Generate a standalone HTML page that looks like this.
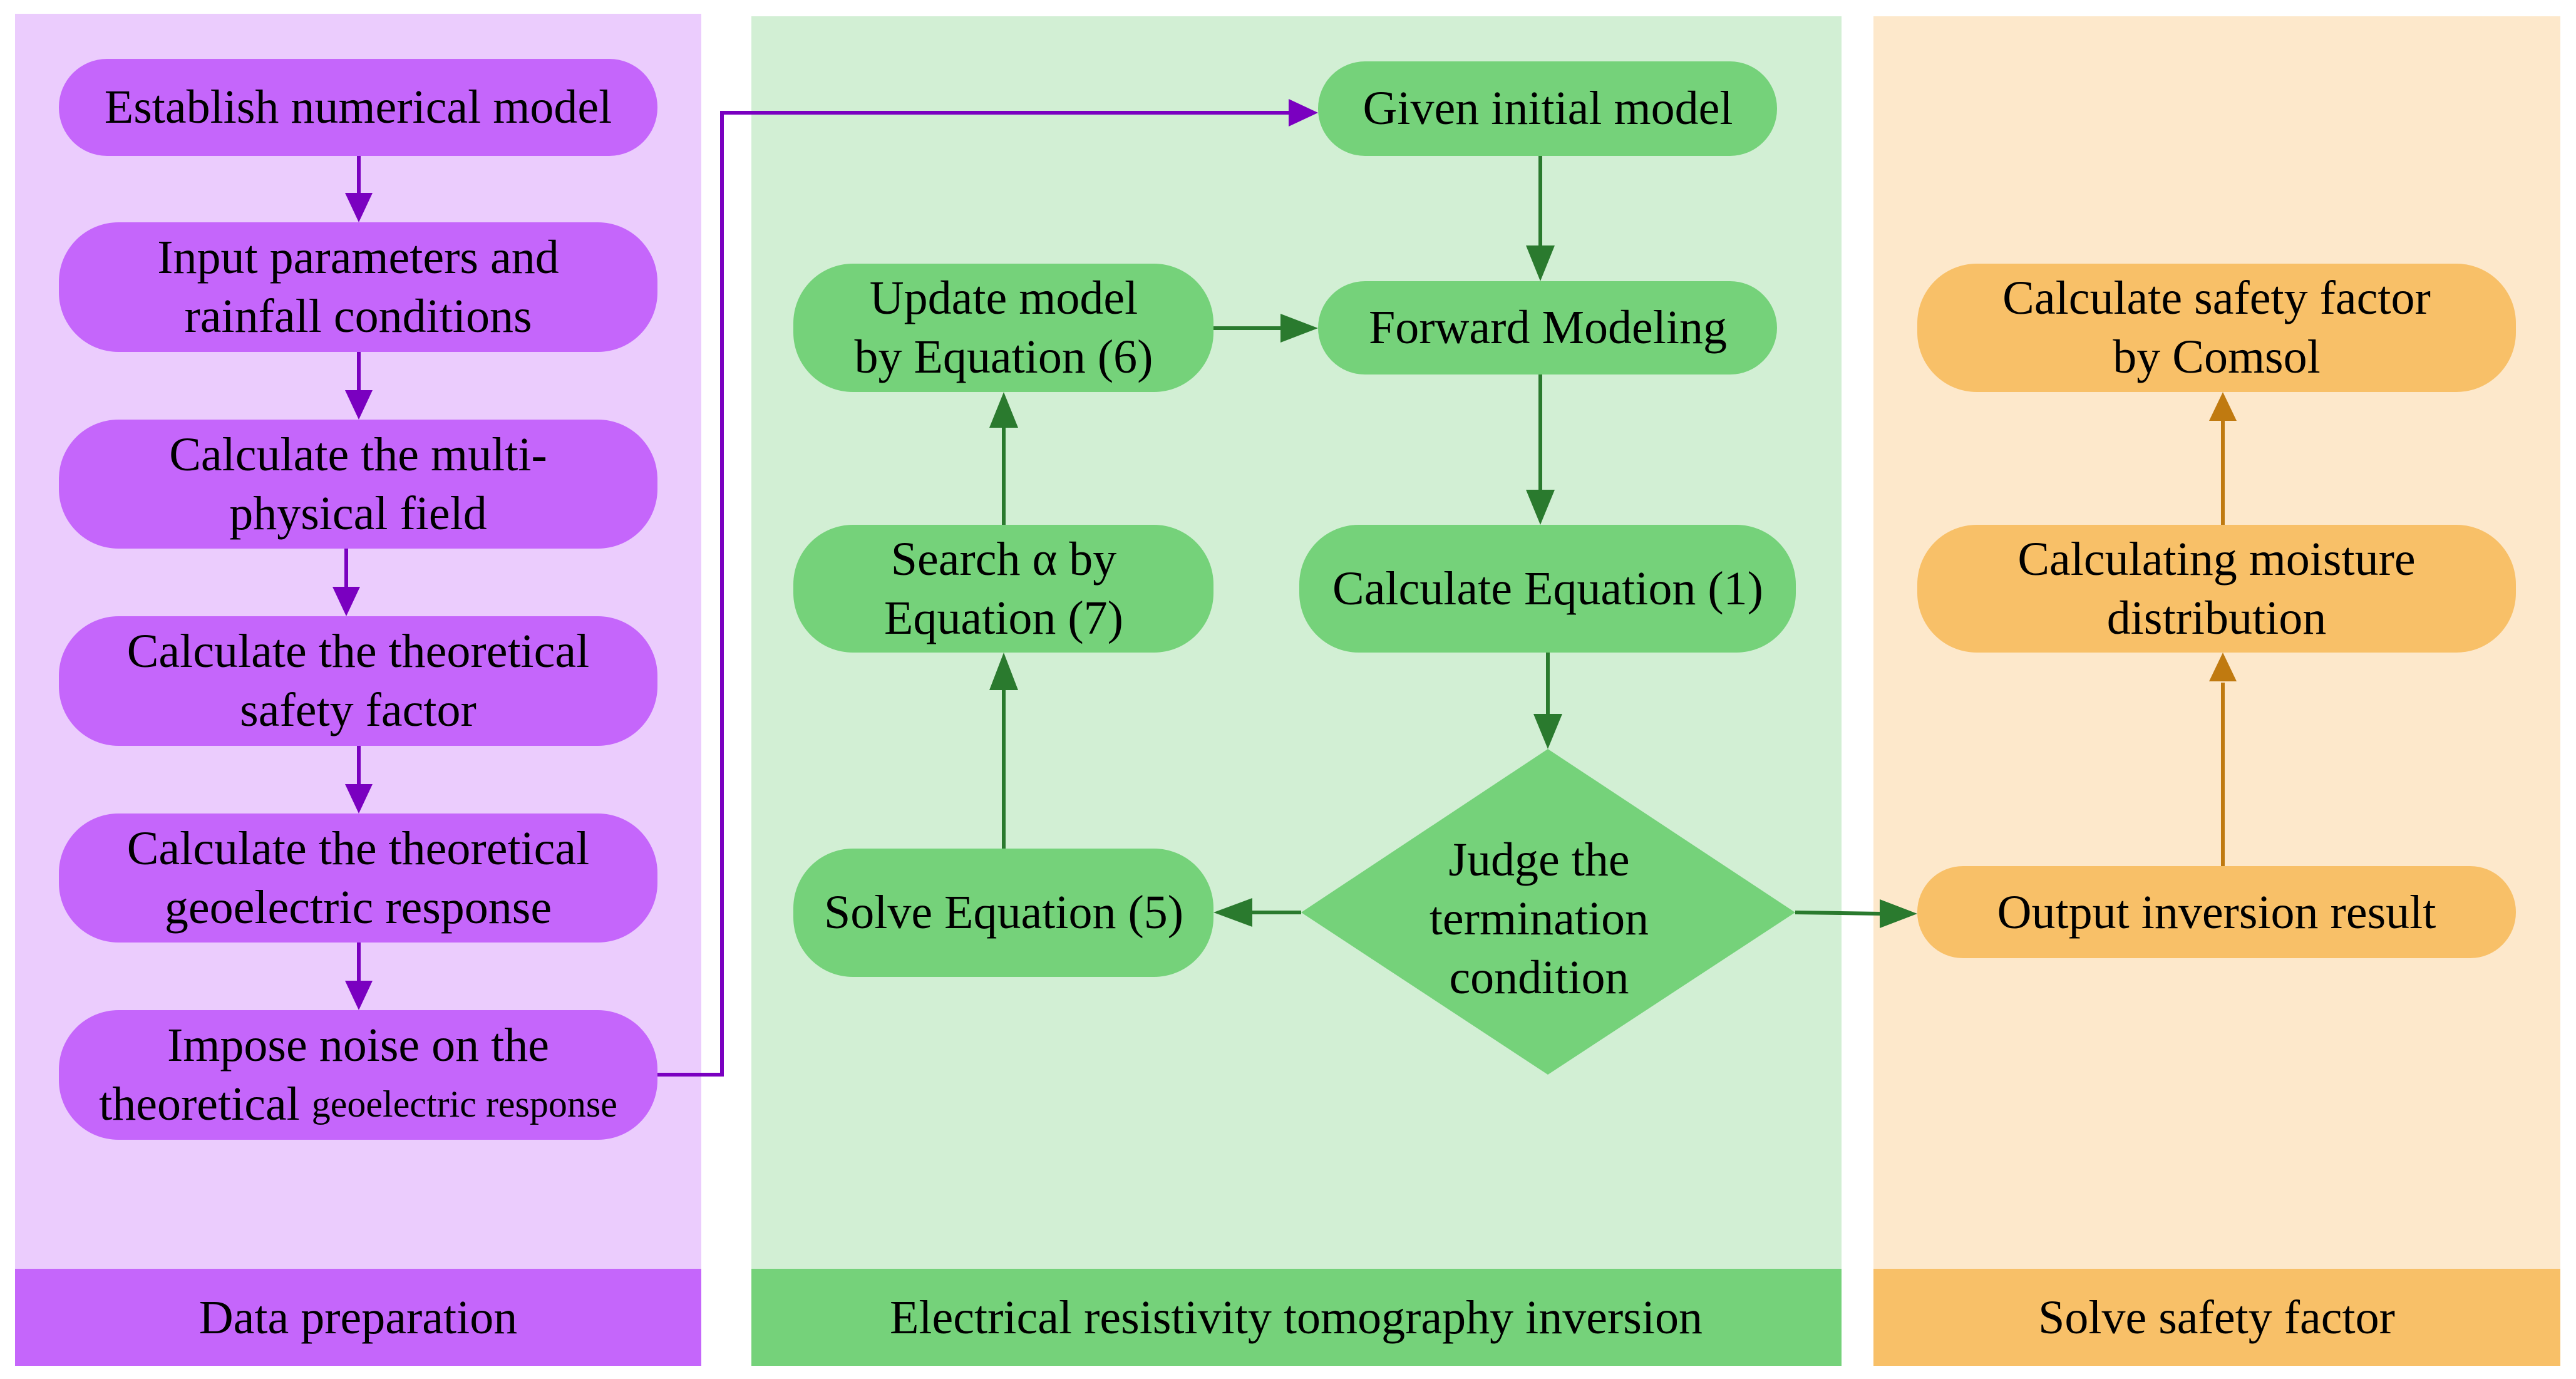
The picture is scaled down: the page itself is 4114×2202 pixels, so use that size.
<!DOCTYPE html>
<html><head><meta charset="utf-8"><style>
html,body{margin:0;padding:0;background:#fff;}
svg{display:block;}
svg text{font-family:"Liberation Serif","Times New Roman","DejaVu Serif",serif;font-size:76px;fill:#000;text-anchor:middle;dominant-baseline:central;}
</style></head><body>
<svg width="4114" height="2202" viewBox="0 0 4114 2202" xmlns="http://www.w3.org/2000/svg" font-family="Liberation Serif, serif">
<!-- panels -->
<rect x="24" y="22" width="1096" height="2004" fill="#ebccfd"/>
<rect x="24" y="2026" width="1096" height="155" fill="#c566fb"/>
<rect x="1200" y="26" width="1741" height="2000" fill="#d2efd4"/>
<rect x="1200" y="2026" width="1741" height="155" fill="#75d27a"/>
<rect x="2992" y="26" width="1097" height="2000" fill="#fde8cb"/>
<rect x="2992" y="2026" width="1097" height="155" fill="#f8c068"/>
<g font-family="Liberation Serif, serif">
<text x="572" y="2104">Data preparation</text>
<text x="2070" y="2104">Electrical resistivity tomography inversion</text>
<text x="3540" y="2104">Solve safety factor</text>
</g>

<!-- purple nodes -->
<g fill="#c566fb">
<rect x="94" y="94" width="956" height="155" rx="77"/>
<rect x="94" y="355" width="956" height="207" rx="95"/>
<rect x="94" y="670" width="956" height="206" rx="95"/>
<rect x="94" y="984" width="956" height="207" rx="95"/>
<rect x="94" y="1299" width="956" height="206" rx="95"/>
<rect x="94" y="1613" width="956" height="207" rx="95"/>
</g>
<g font-family="Liberation Serif, serif">
<text x="572" y="171">Establish numerical model</text>
<text x="572" y="411">Input parameters and</text><text x="572" y="505">rainfall conditions</text>
<text x="572" y="726">Calculate the multi-</text><text x="572" y="820">physical field</text>
<text x="572" y="1040">Calculate the theoretical</text><text x="572" y="1134">safety factor</text>
<text x="572" y="1355">Calculate the theoretical</text><text x="572" y="1449">geoelectric response</text>
<text x="572" y="1669">Impose noise on the</text>
<text x="572" y="1763"><tspan>theoretical </tspan><tspan style="font-size:60px">geoelectric response</tspan></text>
</g>

<!-- purple arrows -->
<g stroke="#7a00c0" stroke-width="6" fill="none">
<line x1="573" y1="249" x2="573" y2="310"/>
<line x1="573" y1="562" x2="573" y2="625"/>
<line x1="553" y1="876" x2="553" y2="940"/>
<line x1="573" y1="1191" x2="573" y2="1255"/>
<line x1="573" y1="1505" x2="573" y2="1568"/>
<polyline points="1050,1716 1153,1716 1153,180 2060,180"/>
</g>
<g fill="#7a00c0">
<polygon points="551,308 595,308 573,355"/>
<polygon points="551,623 595,623 573,670"/>
<polygon points="531,937 575,937 553,984"/>
<polygon points="551,1252 595,1252 573,1299"/>
<polygon points="551,1566 595,1566 573,1613"/>
<polygon points="2058,158 2058,202 2105,180"/>
</g>

<!-- green nodes -->
<g fill="#75d27a">
<rect x="2105" y="98" width="733" height="151" rx="75"/>
<rect x="2105" y="449" width="733" height="149" rx="75"/>
<rect x="2075" y="838" width="793" height="204" rx="95"/>
<rect x="1267" y="421" width="671" height="205" rx="95"/>
<rect x="1267" y="838" width="671" height="204" rx="95"/>
<rect x="1267" y="1355" width="671" height="205" rx="95"/>
<polygon points="2472,1196 2867,1457 2472,1716 2078,1457"/>
</g>
<g font-family="Liberation Serif, serif">
<text x="2472" y="173">Given initial model</text>
<text x="2472" y="523">Forward Modeling</text>
<text x="2472" y="940">Calculate Equation (1)</text>
<text x="1603" y="476">Update model</text><text x="1603" y="570">by Equation (6)</text>
<text x="1603" y="893">Search α by</text><text x="1603" y="987">Equation (7)</text>
<text x="1603" y="1457">Solve Equation (5)</text>
<text x="2458" y="1373">Judge the</text><text x="2458" y="1467">termination</text><text x="2458" y="1561">condition</text>
</g>

<g stroke="#2a7a2e" stroke-width="6" fill="none">
<line x1="2460" y1="249" x2="2460" y2="395"/>
<line x1="2460" y1="598" x2="2460" y2="785"/>
<line x1="2472" y1="1042" x2="2472" y2="1145"/>
<line x1="1603" y1="1355" x2="1603" y2="1100"/>
<line x1="1603" y1="838" x2="1603" y2="680"/>
<line x1="1938" y1="524" x2="2050" y2="524"/>
<line x1="2078" y1="1457" x2="1995" y2="1457"/>
<line x1="2867" y1="1457" x2="3005" y2="1459"/>
</g>
<g fill="#2a7a2e">
<polygon points="2437,392 2483,392 2460,449"/>
<polygon points="2437,782 2483,782 2460,838"/>
<polygon points="2449,1140 2495,1140 2472,1196"/>
<polygon points="1580,1102 1626,1102 1603,1042"/>
<polygon points="1580,683 1626,683 1603,626"/>
<polygon points="2045,501 2045,547 2105,524"/>
<polygon points="2000,1434 2000,1480 1938,1457"/>
<polygon points="3002,1436 3002,1482 3062,1459"/>
</g>

<!-- orange nodes -->
<g fill="#f8c068">
<rect x="3062" y="421" width="956" height="205" rx="95"/>
<rect x="3062" y="838" width="956" height="204" rx="95"/>
<rect x="3062" y="1383" width="956" height="147" rx="73"/>
</g>
<g font-family="Liberation Serif, serif">
<text x="3540" y="476">Calculate safety factor</text><text x="3540" y="570">by Comsol</text>
<text x="3540" y="893">Calculating moisture</text><text x="3540" y="987">distribution</text>
<text x="3540" y="1457">Output inversion result</text>
</g>
<g stroke="#c07a10" stroke-width="6" fill="none">
<line x1="3550" y1="1383" x2="3550" y2="1090"/>
<line x1="3550" y1="838" x2="3550" y2="670"/>
</g>
<g fill="#c07a10">
<polygon points="3528,1088 3572,1088 3550,1042"/>
<polygon points="3528,672 3572,672 3550,626"/>
</g>
</svg>
</body></html>
